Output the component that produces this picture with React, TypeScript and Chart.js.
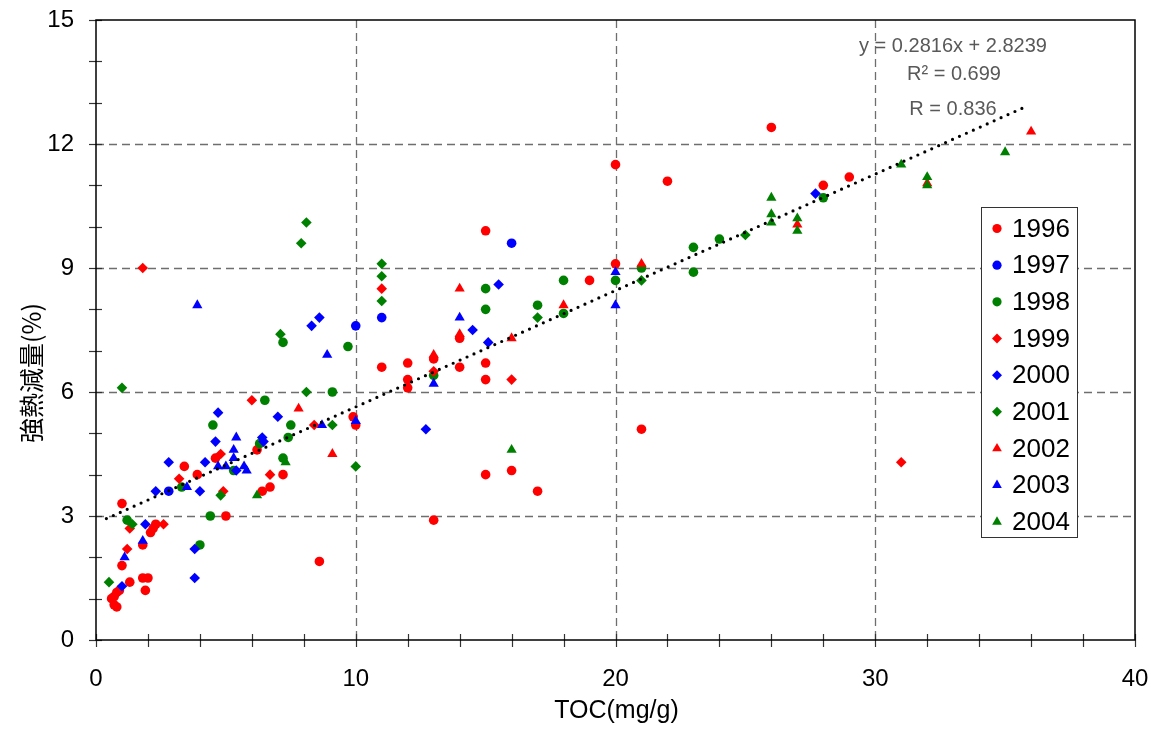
import React, { useEffect, useRef } from 'react';
import { Chart, registerables } from 'chart.js';

Chart.register(...registerables);

// ---------- data ----------
const SERIES_NAMES = ['1996', '1997', '1998', '1999', '2000', '2001', '2002', '2003', '2004'];

const S1996: [number, number][] = [
  [0.6, 1.0], [0.7, 0.85], [0.8, 0.8], [0.7, 1.05], [0.8, 1.15], [0.9, 1.2],
  [1.0, 3.3], [1.0, 1.8], [1.3, 1.4], [1.8, 1.5], [2.0, 1.5], [1.9, 1.2], [1.8, 2.3],
  [2.1, 2.6], [2.2, 2.7], [2.3, 2.8], [3.4, 4.2], [3.9, 4.0], [4.6, 4.4], [5.0, 3.0],
  [6.2, 4.6], [6.4, 3.6], [6.7, 3.7], [7.2, 4.0], [8.6, 1.9], [9.9, 5.4], [10, 5.2],
  [11, 6.6], [12, 6.7], [12, 6.3], [12, 6.1], [13, 6.8], [13, 2.9], [14, 7.3], [14, 6.6],
  [15, 9.9], [15, 6.7], [15, 6.3], [15, 4.0], [16, 4.1], [17, 3.6], [19, 8.7], [20, 11.5],
  [20, 9.1], [21, 5.1], [22, 11.1], [26, 12.4], [28, 11.0], [29, 11.2],
];
const S1997: [number, number][] = [
  [2.8, 3.6], [10, 7.6], [11, 7.8], [16, 9.6],
];
const S1998: [number, number][] = [
  [1.2, 2.9], [3.3, 3.7], [4.0, 2.3], [4.4, 3.0], [4.5, 5.2], [5.3, 4.1], [6.3, 4.75],
  [6.5, 5.8], [7.2, 7.2], [7.2, 4.4], [7.4, 4.9], [7.5, 5.2], [9.1, 6.0], [9.7, 7.1],
  [13, 6.4], [15, 8.5], [15, 8.0], [17, 8.1], [18, 8.7], [18, 7.9], [20, 8.7], [21, 9.0],
  [23, 9.5], [23, 8.9], [24, 9.7], [28, 10.7],
];
const S1999: [number, number][] = [
  [1.2, 2.2], [1.3, 2.7], [1.8, 9.0], [2.6, 2.8], [3.2, 3.9], [4.8, 4.5], [4.9, 3.6],
  [6.0, 5.8], [6.7, 4.0], [8.4, 5.2], [11, 8.5], [13, 6.5], [16, 6.3], [31, 4.3],
];
const S2000: [number, number][] = [
  [1.0, 1.3], [1.9, 2.8], [2.3, 3.6], [2.8, 4.3], [3.8, 2.2], [3.8, 1.5], [4.0, 3.6],
  [4.2, 4.3], [4.6, 4.8], [4.7, 5.5], [5.4, 4.1], [6.4, 4.9], [6.45, 4.8], [7.0, 5.4],
  [8.3, 7.6], [8.6, 7.8], [12.7, 5.1], [14.5, 7.5], [15.1, 7.2], [15.5, 8.6], [27.7, 10.8],
];
const S2001: [number, number][] = [
  [0.5, 1.4], [1.0, 6.1], [1.4, 2.8], [4.8, 3.5], [7.1, 7.4], [7.9, 9.6], [8.1, 10.1],
  [8.1, 6.0], [9.1, 5.2], [10, 4.2], [11, 9.1], [11, 8.8], [11, 8.2], [17, 7.8],
  [21, 8.7], [25, 9.8],
];
const S2002: [number, number][] = [
  [7.8, 5.6], [9.1, 4.5], [13, 6.9], [14, 8.5], [14, 7.4], [16, 7.3], [18, 8.1],
  [21, 9.1], [27, 10.05], [32, 11.05], [36, 12.3],
];
const S2003: [number, number][] = [
  [1.1, 2.0], [1.8, 2.4], [3.5, 3.7], [3.9, 8.1], [4.7, 4.2], [5.0, 4.2], [5.3, 4.4],
  [5.3, 4.6], [5.4, 4.9], [5.7, 4.2], [5.8, 4.1], [8.7, 5.2], [8.9, 6.9], [10, 5.3],
  [13, 6.2], [14, 7.8], [20, 8.9], [20, 8.1],
];
const S2004: [number, number][] = [
  [6.2, 3.5], [7.3, 4.3], [16, 4.6], [26, 10.7], [26, 10.3], [26, 10.1], [27, 10.2],
  [27, 9.9], [31, 11.5], [32, 11.2], [32, 11.0], [35, 11.8],
];

const SERIES_DATA = [S1996, S1997, S1998, S1999, S2000, S2001, S2002, S2003, S2004];

// trendline from the displayed equation
const TREND_SLOPE = 0.2816;
const TREND_INTERCEPT = 2.8239;
const TREND_X = [0.4, 35.7];
const EQUATION_LINES = ['y = 0.2816x + 2.8239', 'R² = 0.699', 'R = 0.836'];

// axes
const X_MIN = 0, X_MAX = 40, X_STEP = 10;
const Y_MIN = 0, Y_MAX = 15, Y_STEP = 3;
const X_GRID = [10, 20, 30];
const Y_GRID = [3, 6, 9, 12];
const X_MINOR = [0, 2, 4, 6, 8, 10, 12, 14, 16, 18, 20, 22, 24, 26, 28, 30, 32, 34, 36, 38, 40];
const Y_MINOR = [0, 1, 2, 3, 4, 5, 6, 7, 8, 9, 10, 11, 12, 13, 14, 15];
const X_TITLE = 'TOC(mg/g)';
const Y_TITLE = '強熱減量(%)';

// ---------- styles ----------
const RED = '#FF0000';
const BLUE = '#0000FF';
const GREEN = '#008000';
const SERIES_COLORS = [RED, BLUE, GREEN, RED, BLUE, GREEN, RED, BLUE, GREEN];
const SERIES_STYLES = ['circle', 'circle', 'circle', 'rectRot', 'rectRot', 'rectRot', 'triangle', 'triangle', 'triangle'];
const STYLE_RADIUS: Record<string, number> = { circle: 4.8, rectRot: 5.3, triangle: 5.9 };

const LATIN = '"Liberation Sans", Arial, sans-serif';
const CJK = '"Noto Sans CJK JP", "Liberation Sans", sans-serif';

function drawMarker(ctx: CanvasRenderingContext2D, style: string, x: number, y: number, color: string) {
  ctx.fillStyle = color;
  ctx.beginPath();
  if (style === 'circle') {
    ctx.arc(x, y, 4.6, 0, Math.PI * 2);
  } else if (style === 'rectRot') {
    const r = 5;
    ctx.moveTo(x - r, y);
    ctx.lineTo(x, y - r);
    ctx.lineTo(x + r, y);
    ctx.lineTo(x, y + r);
    ctx.closePath();
  } else {
    const r = 5.6;
    ctx.moveTo(x, y - r);
    ctx.lineTo(x + r * 0.866, y + r * 0.5);
    ctx.lineTo(x - r * 0.866, y + r * 0.5);
    ctx.closePath();
  }
  ctx.fill();
}

const framePlugin = {
  id: 'frameGrid',
  beforeDatasetsDraw(chart: any) {
    const { ctx, chartArea: a, scales } = chart;
    const xs = scales.x, ys = scales.y;
    ctx.save();
    // dashed grid
    ctx.strokeStyle = '#6e6e6e';
    ctx.lineWidth = 1.3;
    ctx.setLineDash([8, 5]);
    for (const v of X_GRID) {
      const px = Math.round(xs.getPixelForValue(v)) + 0.5;
      ctx.beginPath();
      ctx.moveTo(px, a.top);
      ctx.lineTo(px, a.bottom);
      ctx.stroke();
    }
    for (const v of Y_GRID) {
      const py = Math.round(ys.getPixelForValue(v)) + 0.5;
      ctx.beginPath();
      ctx.moveTo(a.left, py);
      ctx.lineTo(a.right, py);
      ctx.stroke();
    }
    ctx.setLineDash([]);
    // ticks
    ctx.strokeStyle = '#333';
    ctx.lineWidth = 1.2;
    for (const v of X_MINOR) {
      const px = Math.round(xs.getPixelForValue(v)) + 0.5;
      ctx.beginPath();
      ctx.moveTo(px, a.bottom - 6);
      ctx.lineTo(px, a.bottom + 7);
      ctx.stroke();
    }
    for (const v of Y_MINOR) {
      const py = Math.round(ys.getPixelForValue(v)) + 0.5;
      ctx.beginPath();
      ctx.moveTo(a.left - 7, py);
      ctx.lineTo(a.left + 6, py);
      ctx.stroke();
    }
    // frame
    ctx.strokeStyle = '#000';
    ctx.lineWidth = 1.5;
    ctx.strokeRect(a.left, a.top, a.right - a.left, a.bottom - a.top);
    ctx.restore();
  },
  afterDraw(chart: any) {
    const { ctx, chartArea: a } = chart;
    ctx.save();
    // axis titles
    ctx.fillStyle = '#000';
    ctx.font = `25px ${LATIN}`;
    ctx.textAlign = 'center';
    ctx.textBaseline = 'middle';
    ctx.fillText(X_TITLE, (a.left + a.right) / 2 + 1, 711);
    ctx.save();
    ctx.translate(31, 373);
    ctx.rotate(-Math.PI / 2);
    ctx.font = `25px ${CJK}`;
    ctx.fillText(Y_TITLE, 0, 0);
    ctx.restore();

    // equation
    ctx.fillStyle = '#595959';
    ctx.font = `20px ${LATIN}`;
    ctx.textAlign = 'center';
    ctx.fillText(EQUATION_LINES[0], 953, 46);
    ctx.fillText(EQUATION_LINES[1], 954, 74);
    ctx.fillText(EQUATION_LINES[2], 953, 109);

    // legend
    const lx = a.right - 154, ly = 207, lw = 96, lh = 330;
    ctx.fillStyle = '#fff';
    ctx.fillRect(lx, ly, lw, lh);
    ctx.strokeStyle = '#333';
    ctx.lineWidth = 1;
    ctx.strokeRect(lx + 0.5, ly + 0.5, lw, lh);
    ctx.font = `26px ${LATIN}`;
    ctx.textAlign = 'left';
    ctx.textBaseline = 'middle';
    SERIES_NAMES.forEach((name, i) => {
      const cy = ly + 21.5 + i * 36.67;
      drawMarker(ctx, SERIES_STYLES[i], lx + 16, cy, SERIES_COLORS[i]);
      ctx.fillStyle = '#000';
      ctx.fillText(name, lx + 31, cy + 1);
    });
    ctx.restore();
  },
};

const zeroPad = (s: any) => {
  s.paddingLeft = 0;
  s.paddingRight = 0;
  s.paddingTop = 0;
  s.paddingBottom = 0;
};

export default function App() {
  const ref = useRef<HTMLCanvasElement | null>(null);

  useEffect(() => {
    if (!ref.current) return;
    const datasets: any[] = SERIES_NAMES.map((name, i) => ({
      type: 'scatter',
      label: name,
      data: SERIES_DATA[i].map(([x, y]) => ({ x, y })),
      pointStyle: SERIES_STYLES[i],
      pointRadius: STYLE_RADIUS[SERIES_STYLES[i]],
      pointHoverRadius: STYLE_RADIUS[SERIES_STYLES[i]],
      backgroundColor: SERIES_COLORS[i],
      borderColor: SERIES_COLORS[i],
      borderWidth: 0,
      order: 10 - i,
    }));
    datasets.push({
      type: 'line',
      label: 'trend',
      data: TREND_X.map((x) => ({ x, y: TREND_SLOPE * x + TREND_INTERCEPT })),
      borderColor: '#000',
      borderWidth: 3.2,
      borderDash: [0, 7.6],
      borderCapStyle: 'round',
      pointRadius: 0,
      fill: false,
      order: 0,
    });

    const chart = new Chart(ref.current, {
      type: 'scatter',
      data: { datasets },
      options: {
        responsive: false,
        animation: false,
        layout: { padding: { left: 0, top: 20, right: 20, bottom: 0 } },
        plugins: {
          legend: { display: false },
          tooltip: { enabled: false },
          title: { display: false },
        },
        scales: {
          x: {
            type: 'linear',
            min: X_MIN,
            max: X_MAX,
            grid: { display: false },
            border: { display: false },
            ticks: {
              stepSize: X_STEP,
              padding: 17,
              color: '#000',
              font: { family: LATIN, size: 24 },
            },
            afterFit: (s: any) => { s.height = 94; zeroPad(s); },
          },
          y: {
            type: 'linear',
            min: Y_MIN,
            max: Y_MAX,
            grid: { display: false },
            border: { display: false },
            ticks: {
              stepSize: Y_STEP,
              padding: 14,
              color: '#000',
              font: { family: LATIN, size: 24 },
            },
            afterFit: (s: any) => { s.width = 96; zeroPad(s); },
          },
        },
      },
      plugins: [framePlugin],
    });
    return () => chart.destroy();
  }, []);

  return (
    <div style={{ position: 'fixed', left: 0, top: 0, width: 1155, height: 734, background: '#fff' }}>
      <canvas ref={ref} width={1155} height={734} style={{ display: 'block', width: 1155, height: 734 }} />
    </div>
  );
}
